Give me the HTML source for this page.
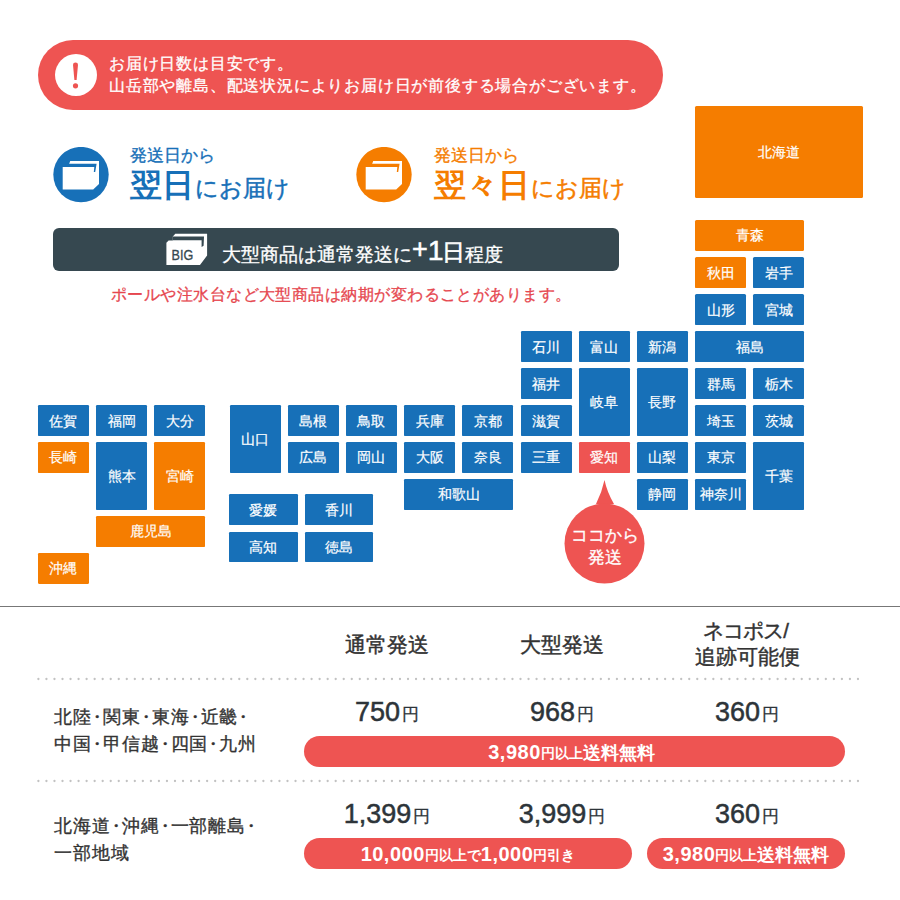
<!DOCTYPE html>
<html lang="ja">
<head>
<meta charset="utf-8">
<style>
*{margin:0;padding:0;box-sizing:border-box}
html,body{width:900px;height:900px;background:#fff;overflow:hidden}
body{position:relative;font-family:"Liberation Sans",sans-serif;color:#333}
.a{position:absolute}
#banner{left:38px;top:40px;width:625px;height:70px;border-radius:35px;background:#ee5452}
#banner .ic{left:17px;top:14px;width:42px;height:42px;border-radius:50%;background:#fff}
#banner .tx{left:71px;top:12.5px;color:#fff;font-size:16px;letter-spacing:0.8px;line-height:22.2px;white-space:nowrap;-webkit-text-stroke:0.3px #fff}
.dl{white-space:nowrap}
.dl .s{font-size:16.5px;line-height:16px;-webkit-text-stroke:0.35px}
.dl .b{font-size:32px;font-weight:bold;line-height:32px}
.dl .m{font-size:22.6px;line-height:24px;-webkit-text-stroke:0.5px;margin-left:0.5px}
#bar{left:53px;top:228px;width:566px;height:43px;border-radius:6px;background:#364850}
#note{left:111px;top:285px;color:#e6474f;font-size:16px;letter-spacing:0.45px;line-height:20px;white-space:nowrap;-webkit-text-stroke:0.3px #e6474f}
.c{position:absolute;height:30.5px;width:51px;border-radius:1.5px;color:#fff;font-size:14px;-webkit-text-stroke:0.2px #fff;display:flex;align-items:center;justify-content:center;white-space:nowrap;padding-top:2px}
.bl{background:#1770b8}
.or{background:#f57d00}
.rd{background:#ee5452}
#hr{left:0;top:605.5px;width:900px;height:1.5px;background:#777}
.dots{position:absolute;left:37px;width:825px;height:3px;background-image:radial-gradient(circle at 1.5px 1.5px,#b8b8b8 1.0px,transparent 1.7px);background-size:8px 3px}
.hd{position:absolute;font-size:20.5px;line-height:26px;color:#333;text-align:center;white-space:nowrap;-webkit-text-stroke:0.45px #333}
.rg{position:absolute;left:54px;font-size:18px;letter-spacing:0.9px;line-height:27.5px;color:#333;white-space:nowrap;-webkit-text-stroke:0.35px #333}
.rg i{font-style:normal;margin:0 -3.95px}
.pr{position:absolute;font-size:27px;line-height:30px;color:#2d3439;white-space:nowrap;text-align:center;-webkit-text-stroke:0.5px #2d3439}
.pr small{font-size:17px;position:relative;top:-1.5px;margin-left:2px;-webkit-text-stroke:0.3px #2d3439}
.pill{position:absolute;height:31px;border-radius:16px;background:#ee5452;color:#fff;font-weight:bold;display:flex;align-items:center;justify-content:center;white-space:nowrap;font-size:17.5px;padding-top:3.5px}
.pill b{font-size:20px;letter-spacing:0.5px;position:relative;top:-0.5px}
.pill small{font-size:14px;position:relative;top:0.5px}
</style>
</head>
<body>
<div id="banner" class="a">
  <div class="ic a"><svg width="42" height="42" viewBox="0 0 42 42"><path d="M18 10.8 Q18 8.4 20.5 8.4 Q23 8.4 23 10.8 L21.6 26 L19.4 26 Z" fill="#ee5452"/><circle cx="20.5" cy="31.8" r="2.6" fill="#ee5452"/></svg></div>
  <div class="tx a">お届け日数は目安です。<br>山岳部や離島、配送状況によりお届け日が前後する場合がございます。</div>
</div>

<!-- next day -->
<svg class="a" style="left:53px;top:147px" width="56" height="56" viewBox="0 0 56 56">
  <circle cx="28" cy="27.6" r="27.7" fill="#1770b8"/>
  <path d="M17.2 14.1 L46 14.1 L46 37 L40.2 42.5 L9.7 42.5 L9.7 19.9 L15 19.9 Z" fill="#fff"/>
  <path d="M15.3 16.8 L43.6 16.8 L42.2 25 L40.8 25 L41.3 19.9 L9.7 19.9 Z" fill="#1770b8"/>
</svg>
<div class="dl a" style="left:130px;top:147px;color:#1770b8"><div class="s">発送日から</div><div style="margin-top:6px"><span class="b">翌日</span><span class="m">にお届け</span></div></div>

<svg class="a" style="left:355.7px;top:147px" width="56" height="56" viewBox="0 0 56 56">
  <circle cx="28" cy="27.6" r="27.7" fill="#f57d00"/>
  <path d="M17.2 14.1 L46 14.1 L46 37 L40.2 42.5 L9.7 42.5 L9.7 19.9 L15 19.9 Z" fill="#fff"/>
  <path d="M15.3 16.8 L43.6 16.8 L42.2 25 L40.8 25 L41.3 19.9 L9.7 19.9 Z" fill="#f57d00"/>
</svg>
<div class="dl a" style="left:434px;top:147px;color:#f57d00"><div class="s">発送日から</div><div style="margin-top:6px"><span class="b">翌々日</span><span class="m">にお届け</span></div></div>

<div id="bar" class="a">
  <svg class="a" style="left:113px;top:5px" width="42" height="33" viewBox="0 0 42 33">
    <path d="M9.3 0.8 L41.1 0.8 L41.1 22.5 L34 32 L0.4 32 L0.4 9.7 L2.6 7.5 L6.8 7.5 L6.8 3.6 Z" fill="#fff"/>
    <path d="M6.8 3.6 L38 3.6 L37.6 12.7 L35.6 14 L35.6 7.2 L6.8 7.2 Z" fill="#364850"/>
    <text x="5.6" y="26.5" font-family="Liberation Sans" font-size="14" textLength="21.7" lengthAdjust="spacingAndGlyphs" fill="#364850" stroke="#364850" stroke-width="0.3">BIG</text>
  </svg>
  <div class="a" style="left:169px;top:12.5px;color:#fff;font-size:18.5px;line-height:20px;white-space:nowrap;-webkit-text-stroke:0.3px #fff"><span id="bt1">大型商品は通常発送に</span><span id="bt2" style="font-size:27px;position:relative;top:-3px;-webkit-text-stroke:0.5px #fff">+</span><span style="font-size:28.5px;position:relative;top:-0.5px;-webkit-text-stroke:0.5px #fff">1</span><span id="bt2b" style="font-size:22.5px;position:relative;top:-1px;margin-left:-2px;-webkit-text-stroke:0.6px #fff">日</span><span id="bt3">程度</span></div>
</div>
<div id="note" class="a">ポールや注水台など大型商品は納期が変わることがあります。</div>

<!-- map -->
<div class="c or" style="left:695px;top:106px;width:168px;height:92px">北海道</div>
<div id="map">
<div class="c or" style="left:695.1px;top:220.3px;width:109.2px;height:30.4px">青森</div>
<div class="c or" style="left:695.1px;top:257.3px;width:51.0px;height:30.4px">秋田</div>
<div class="c bl" style="left:753.3px;top:257.3px;width:51.0px;height:30.4px">岩手</div>
<div class="c bl" style="left:695.1px;top:294.3px;width:51.0px;height:30.4px">山形</div>
<div class="c bl" style="left:753.3px;top:294.3px;width:51.0px;height:30.4px">宮城</div>
<div class="c bl" style="left:520.5px;top:331.3px;width:51.0px;height:30.4px">石川</div>
<div class="c bl" style="left:578.7px;top:331.3px;width:51.0px;height:30.4px">富山</div>
<div class="c bl" style="left:636.9px;top:331.3px;width:51.0px;height:30.4px">新潟</div>
<div class="c bl" style="left:695.1px;top:331.3px;width:109.2px;height:30.4px">福島</div>
<div class="c bl" style="left:520.5px;top:368.3px;width:51.0px;height:30.4px">福井</div>
<div class="c bl" style="left:578.7px;top:368.3px;width:51.0px;height:67.4px">岐阜</div>
<div class="c bl" style="left:636.9px;top:368.3px;width:51.0px;height:67.4px">長野</div>
<div class="c bl" style="left:695.1px;top:368.3px;width:51.0px;height:30.4px">群馬</div>
<div class="c bl" style="left:753.3px;top:368.3px;width:51.0px;height:30.4px">栃木</div>
<div class="c bl" style="left:229.5px;top:405.2px;width:51.0px;height:67.4px">山口</div>
<div class="c bl" style="left:287.7px;top:405.2px;width:51.0px;height:30.4px">島根</div>
<div class="c bl" style="left:345.9px;top:405.2px;width:51.0px;height:30.4px">鳥取</div>
<div class="c bl" style="left:404.1px;top:405.2px;width:51.0px;height:30.4px">兵庫</div>
<div class="c bl" style="left:462.3px;top:405.2px;width:51.0px;height:30.4px">京都</div>
<div class="c bl" style="left:520.5px;top:405.2px;width:51.0px;height:30.4px">滋賀</div>
<div class="c bl" style="left:695.1px;top:405.2px;width:51.0px;height:30.4px">埼玉</div>
<div class="c bl" style="left:753.3px;top:405.2px;width:51.0px;height:30.4px">茨城</div>
<div class="c bl" style="left:287.7px;top:442.2px;width:51.0px;height:30.4px">広島</div>
<div class="c bl" style="left:345.9px;top:442.2px;width:51.0px;height:30.4px">岡山</div>
<div class="c bl" style="left:404.1px;top:442.2px;width:51.0px;height:30.4px">大阪</div>
<div class="c bl" style="left:462.3px;top:442.2px;width:51.0px;height:30.4px">奈良</div>
<div class="c bl" style="left:520.5px;top:442.2px;width:51.0px;height:30.4px">三重</div>
<div class="c rd" style="left:578.7px;top:442.2px;width:51.0px;height:30.4px">愛知</div>
<div class="c bl" style="left:636.9px;top:442.2px;width:51.0px;height:30.4px">山梨</div>
<div class="c bl" style="left:695.1px;top:442.2px;width:51.0px;height:30.4px">東京</div>
<div class="c bl" style="left:753.3px;top:442.2px;width:51.0px;height:67.4px">千葉</div>
<div class="c bl" style="left:404.1px;top:479.2px;width:109.2px;height:30.4px">和歌山</div>
<div class="c bl" style="left:636.9px;top:479.2px;width:51.0px;height:30.4px">静岡</div>
<div class="c bl" style="left:695.1px;top:479.2px;width:51.0px;height:30.4px">神奈川</div>
<div class="c bl" style="left:37.9px;top:405.2px;width:51.0px;height:30.4px">佐賀</div>
<div class="c bl" style="left:96.2px;top:405.2px;width:51.0px;height:30.4px">福岡</div>
<div class="c bl" style="left:154.4px;top:405.2px;width:51.0px;height:30.4px">大分</div>
<div class="c or" style="left:37.9px;top:442.2px;width:51.0px;height:30.4px">長崎</div>
<div class="c bl" style="left:96.2px;top:442.2px;width:51.0px;height:67.4px">熊本</div>
<div class="c or" style="left:154.4px;top:442.2px;width:51.0px;height:67.4px">宮崎</div>
<div class="c or" style="left:96.2px;top:516.2px;width:109.2px;height:30.4px">鹿児島</div>
<div class="c or" style="left:37.9px;top:553.2px;width:51.0px;height:30.4px">沖縄</div>
<div class="c bl" style="left:229.3px;top:494.3px;width:68.4px;height:30.5px">愛媛</div>
<div class="c bl" style="left:305.0px;top:494.3px;width:68.4px;height:30.5px">香川</div>
<div class="c bl" style="left:229.3px;top:531.7px;width:68.4px;height:30.5px">高知</div>
<div class="c bl" style="left:305.0px;top:531.7px;width:68.4px;height:30.5px">徳島</div>
</div>
<div class="c or" style="left:695.1px;top:257.6px;width:51.0px;height:30.4px">秋田</div>
<div class="c bl" style="left:753.3px;top:257.6px;width:51.0px;height:30.4px">岩手</div>
<div class="c bl" style="left:695.1px;top:294.5px;width:51.0px;height:30.4px">山形</div>
<div class="c bl" style="left:753.3px;top:294.5px;width:51.0px;height:30.4px">宮城</div>
<div class="c bl" style="left:520.5px;top:331.4px;width:51.0px;height:30.4px">石川</div>
<div class="c bl" style="left:578.7px;top:331.4px;width:51.0px;height:30.4px">富山</div>
<div class="c bl" style="left:636.9px;top:331.4px;width:51.0px;height:30.4px">新潟</div>
<div class="c bl" style="left:695.1px;top:331.4px;width:109.2px;height:30.4px">福島</div>
<div class="c bl" style="left:520.5px;top:368.4px;width:51.0px;height:30.4px">福井</div>
<div class="c bl" style="left:578.7px;top:368.4px;width:51.0px;height:67.3px">岐阜</div>
<div class="c bl" style="left:636.9px;top:368.4px;width:51.0px;height:67.3px">長野</div>
<div class="c bl" style="left:695.1px;top:368.4px;width:51.0px;height:30.4px">群馬</div>
<div class="c bl" style="left:753.3px;top:368.4px;width:51.0px;height:30.4px">栃木</div>
<div class="c bl" style="left:229.5px;top:405.4px;width:51.0px;height:67.3px">山口</div>
<div class="c bl" style="left:287.7px;top:405.4px;width:51.0px;height:30.4px">島根</div>
<div class="c bl" style="left:345.9px;top:405.4px;width:51.0px;height:30.4px">鳥取</div>
<div class="c bl" style="left:404.1px;top:405.4px;width:51.0px;height:30.4px">兵庫</div>
<div class="c bl" style="left:462.3px;top:405.4px;width:51.0px;height:30.4px">京都</div>
<div class="c bl" style="left:520.5px;top:405.4px;width:51.0px;height:30.4px">滋賀</div>
<div class="c bl" style="left:695.1px;top:405.4px;width:51.0px;height:30.4px">埼玉</div>
<div class="c bl" style="left:753.3px;top:405.4px;width:51.0px;height:30.4px">茨城</div>
<div class="c bl" style="left:287.7px;top:442.3px;width:51.0px;height:30.4px">広島</div>
<div class="c bl" style="left:345.9px;top:442.3px;width:51.0px;height:30.4px">岡山</div>
<div class="c bl" style="left:404.1px;top:442.3px;width:51.0px;height:30.4px">大阪</div>
<div class="c bl" style="left:462.3px;top:442.3px;width:51.0px;height:30.4px">奈良</div>
<div class="c bl" style="left:520.5px;top:442.3px;width:51.0px;height:30.4px">三重</div>
<div class="c rd" style="left:578.7px;top:442.3px;width:51.0px;height:30.4px">愛知</div>
<div class="c bl" style="left:636.9px;top:442.3px;width:51.0px;height:30.4px">山梨</div>
<div class="c bl" style="left:695.1px;top:442.3px;width:51.0px;height:30.4px">東京</div>
<div class="c bl" style="left:753.3px;top:442.3px;width:51.0px;height:67.3px">千葉</div>
<div class="c bl" style="left:404.1px;top:479.2px;width:109.2px;height:30.4px">和歌山</div>
<div class="c bl" style="left:636.9px;top:479.2px;width:51.0px;height:30.4px">静岡</div>
<div class="c bl" style="left:695.1px;top:479.2px;width:51.0px;height:30.4px">神奈川</div>
<div class="c bl" style="left:37.9px;top:405.4px;width:51.0px;height:30.4px">佐賀</div>
<div class="c bl" style="left:96.2px;top:405.4px;width:51.0px;height:30.4px">福岡</div>
<div class="c bl" style="left:154.4px;top:405.4px;width:51.0px;height:30.4px">大分</div>
<div class="c or" style="left:37.9px;top:442.3px;width:51.0px;height:30.4px">長崎</div>
<div class="c bl" style="left:96.2px;top:442.3px;width:51.0px;height:67.3px">熊本</div>
<div class="c or" style="left:154.4px;top:442.3px;width:51.0px;height:67.3px">宮崎</div>
<div class="c or" style="left:96.2px;top:516.2px;width:109.2px;height:30.4px">鹿児島</div>
<div class="c or" style="left:37.9px;top:553.1px;width:51.0px;height:30.4px">沖縄</div>
<div class="c bl" style="left:229.3px;top:494.3px;width:68.4px;height:30.5px">愛媛</div>
<div class="c bl" style="left:305.0px;top:494.3px;width:68.4px;height:30.5px">香川</div>
<div class="c bl" style="left:229.3px;top:531.7px;width:68.4px;height:30.5px">高知</div>
<div class="c bl" style="left:305.0px;top:531.7px;width:68.4px;height:30.5px">徳島</div>
</div>

<!-- bubble -->
<svg class="a" style="left:560px;top:478px" width="90" height="110" viewBox="0 0 90 110">
  <path d="M44.5 2 Q47 14 54 26 L36 26 Q42 14 44.5 2 Z" fill="#ee5452"/>
  <circle cx="44.5" cy="65.5" r="40" fill="#ee5452"/>
</svg>
<div class="a" style="left:564px;top:524px;width:81px;text-align:center;color:#fff;font-size:16.5px;line-height:22px;-webkit-text-stroke:0.3px #fff">ココから<br>発送</div>

<div id="hr" class="a"></div>

<!-- table -->
<div class="hd" style="left:327px;top:631.5px;width:120px">通常発送</div>
<div class="hd" style="left:502px;top:631.5px;width:120px">大型発送</div>
<div class="hd" style="left:687px;top:618px;width:120px"><span style="letter-spacing:-2px;position:relative;left:-2px">ネコポス/</span><br>追跡可能便</div>
<svg class="a" style="left:0;top:677px" width="900" height="4"><line x1="38.4" y1="2" x2="858.2" y2="2" stroke="#c2c2c2" stroke-width="2.3" stroke-linecap="round" stroke-dasharray="0 8.035"/></svg>
<div class="rg" style="top:703.5px">北陸<i>・</i>関東<i>・</i>東海<i>・</i>近畿<i>・</i><br>中国<i>・</i>甲信越<i>・</i>四国<i>・</i>九州</div>
<div class="pr" style="left:327px;top:697px;width:120px">750<small>円</small></div>
<div class="pr" style="left:502px;top:697px;width:120px">968<small>円</small></div>
<div class="pr" style="left:687px;top:697px;width:120px">360<small>円</small></div>
<div class="pill" style="left:304px;top:736px;width:541px;padding-right:6px"><b>3,980</b><small>円以上</small>送料無料</div>
<svg class="a" style="left:0;top:779.3px" width="900" height="4"><line x1="38.4" y1="2" x2="858.2" y2="2" stroke="#c2c2c2" stroke-width="2.3" stroke-linecap="round" stroke-dasharray="0 8.035"/></svg>
<div class="rg" style="top:812.5px">北海道<i>・</i>沖縄<i>・</i>一部離島<i>・</i><br>一部地域</div>
<div class="pr" style="left:327px;top:799px;width:120px">1,399<small>円</small></div>
<div class="pr" style="left:502px;top:799px;width:120px">3,999<small>円</small></div>
<div class="pr" style="left:687px;top:799px;width:120px">360<small>円</small></div>
<div class="pill" style="left:304px;top:838px;width:328px"><b>10,000</b><small>円以上で</small><b>1,000</b><small>円引き</small></div>
<div class="pill" style="left:647px;top:838px;width:198px"><b>3,980</b><small>円以上</small>送料無料</div>
</body>
</html>
